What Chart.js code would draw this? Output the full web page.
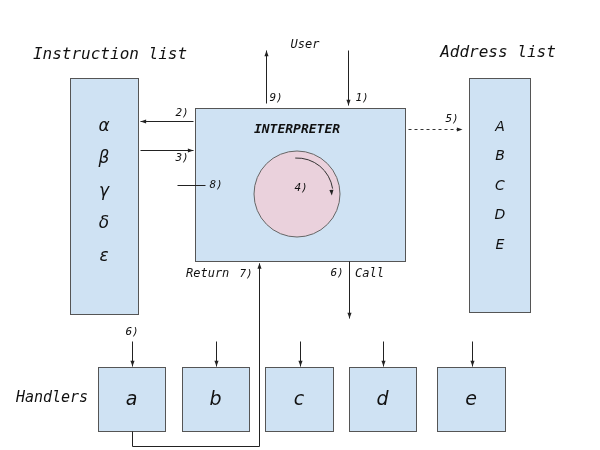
<!DOCTYPE html>
<html><head><meta charset="utf-8">
<script src="https://cdn.jsdelivr.net/npm/chart.js@4"></script>
<style>html,body{margin:0;background:#fff}#wrap{width:600px;height:450px}</style>
</head><body><div id="wrap"><canvas id="c"></canvas></div>
<script>
// boxes: [x1, y1, x2, y2] in diagram units
const listBoxes = [[70, 78, 138, 314], [469, 78, 530, 312]];
const interpBox = [195, 108, 405, 261];
const handlerBoxes = [[98, 367, 165, 431], [182, 367, 249, 431], [265, 367, 333, 431], [349, 367, 416, 431], [437, 367, 505, 431]];
const handlerNames = ['a', 'b', 'c', 'd', 'e'];
const greek = ['α', 'β', 'γ', 'δ', 'ε'];
const greekY = [127, 159, 192, 224, 257];
const addrNames = ['A', 'B', 'C', 'D', 'E'];
const addrY = [127, 156, 186, 215, 245];
const circle = [297, 194, 43];
// arrows: [x1, y1, x2, y2, dashed, head]
const arrows = [
  [266, 103, 266, 50, false, true], [348, 50, 348, 105, false, true],
  [193, 121, 140, 121, false, true], [140, 150, 193, 150, false, true],
  [177, 185, 205, 185, false, false], [408, 129, 462, 129, true, true],
  [349, 261, 349, 318, false, true],
  [132, 341, 132, 366, false, true], [216, 341, 216, 366, false, true], [300, 341, 300, 366, false, true],
  [383, 341, 383, 366, false, true], [472, 341, 472, 366, false, true]
];
const returnPath = [[132, 431], [132, 446], [259, 446], [259, 263]];
// labels: [text, x, y, size, align]
const labels = [
  ['Instruction list', 110, 55, 16, 'center'], ['Address list', 498, 53, 16, 'center'],
  ['User', 305, 45, 12, 'center'], ['Handlers', 52, 398, 15, 'center'],
  ['2)', 182, 113, 11, 'center'], ['3)', 182, 158, 11, 'center'], ['8)', 216, 185, 11, 'center'],
  ['9)', 276, 98, 11, 'center'], ['1)', 362, 98, 11, 'center'], ['5)', 452, 119, 11, 'center'],
  ['4)', 301, 188, 11, 'center'], ['Return', 186, 274, 12, 'left'], ['7)', 246, 274, 11, 'center'],
  ['6)', 337, 273, 11, 'center'], ['Call', 355, 274, 12, 'left'], ['6)', 132, 332, 11, 'center']
];

const diagram = {
  id: 'diagram',
  afterDraw(chart) {
    const c = chart.ctx, X = v => chart.scales.x.getPixelForValue(v), Y = v => chart.scales.y.getPixelForValue(v);
    const rect = (b, fill) => {
      c.fillStyle = fill; c.strokeStyle = '#555'; c.lineWidth = 1;
      c.fillRect(X(b[0]), Y(b[1]), X(b[2]) - X(b[0]), Y(b[3]) - Y(b[1]));
      c.strokeRect(X(b[0]) + .5, Y(b[1]) + .5, X(b[2]) - X(b[0]), Y(b[3]) - Y(b[1]));
    };
    const head = (x1, y1, x2, y2) => {
      const a = Math.atan2(y2 - y1, x2 - x1);
      c.beginPath(); c.moveTo(x2, y2);
      c.lineTo(x2 - 6 * Math.cos(a - 0.35), y2 - 6 * Math.sin(a - 0.35));
      c.lineTo(x2 - 6 * Math.cos(a + 0.35), y2 - 6 * Math.sin(a + 0.35));
      c.closePath(); c.fillStyle = '#222'; c.fill();
    };
    c.save();
    listBoxes.forEach(b => rect(b, '#cfe2f3'));
    rect(interpBox, '#cfe2f3');
    handlerBoxes.forEach(b => rect(b, '#cfe2f3'));
    c.beginPath(); c.arc(X(circle[0]), Y(circle[1]), circle[2], 0, 2 * Math.PI);
    c.fillStyle = '#ead1dc'; c.fill(); c.strokeStyle = '#666'; c.stroke();
    // rotation arrow in circle
    c.beginPath(); c.strokeStyle = '#333';
    c.arc(X(circle[0]), Y(circle[1]), 36, -1.62, -0.15); c.stroke();
    head(X(circle[0]) + 36 * Math.cos(-0.35), Y(circle[1]) + 36 * Math.sin(-0.35), X(circle[0]) + 36 * Math.cos(-0.1) - 1, Y(circle[1]) + 36 * Math.sin(-0.1) + 5);
    c.lineWidth = 1;
    arrows.forEach(a => {
      c.strokeStyle = a[4] ? '#333' : '#222'; c.setLineDash(a[4] ? [3, 3] : []);
      c.beginPath(); c.moveTo(X(a[0]) + .5, Y(a[1]) + .5); c.lineTo(X(a[2]) + .5, Y(a[3]) + .5); c.stroke();
      c.setLineDash([]);
      if (a[5]) head(X(a[0]) + .5, Y(a[1]) + .5, X(a[2]) + .5, Y(a[3]) + .5);
    });
    c.beginPath(); c.strokeStyle = '#222';
    returnPath.forEach((p, i) => i ? c.lineTo(X(p[0]) + .5, Y(p[1]) + .5) : c.moveTo(X(p[0]) + .5, Y(p[1]) + .5));
    c.stroke();
    const n = returnPath.length;
    head(X(returnPath[n - 2][0]) + .5, Y(returnPath[n - 2][1]), X(returnPath[n - 1][0]) + .5, Y(returnPath[n - 1][1]));
    c.fillStyle = '#111'; c.textBaseline = 'middle';
    labels.forEach(l => {
      c.font = 'italic ' + l[3] + 'px "DejaVu Sans Mono"'; c.textAlign = l[4];
      c.fillText(l[0], X(l[1]), Y(l[2]));
    });
    c.font = 'italic bold 13px "DejaVu Sans Mono"'; c.textAlign = 'center';
    c.fillText('INTERPRETER', X(297), Y(130));
    c.font = 'italic 17px "DejaVu Sans"';
    greek.forEach((g, i) => c.fillText(g, X(104), Y(greekY[i])));
    c.font = 'italic 14px "DejaVu Sans"';
    addrNames.forEach((g, i) => c.fillText(g, X(500), Y(addrY[i])));
    c.font = 'italic 19px "DejaVu Sans"';
    handlerNames.forEach((h, i) => c.fillText(h, X((handlerBoxes[i][0] + handlerBoxes[i][2]) / 2), Y(400)));
    c.restore();
  }
};

new Chart(document.getElementById('c'), {
  type: 'scatter',
  data: { datasets: [{ data: [], pointRadius: 0 }] },
  options: {
    responsive: true, maintainAspectRatio: false, animation: false,
    layout: { padding: 0 },
    scales: {
      x: { type: 'linear', min: 0, max: 600, display: false },
      y: { type: 'linear', min: 0, max: 450, reverse: true, display: false }
    },
    plugins: { legend: { display: false }, tooltip: { enabled: false } }
  },
  plugins: [diagram]
});
</script></body></html>
